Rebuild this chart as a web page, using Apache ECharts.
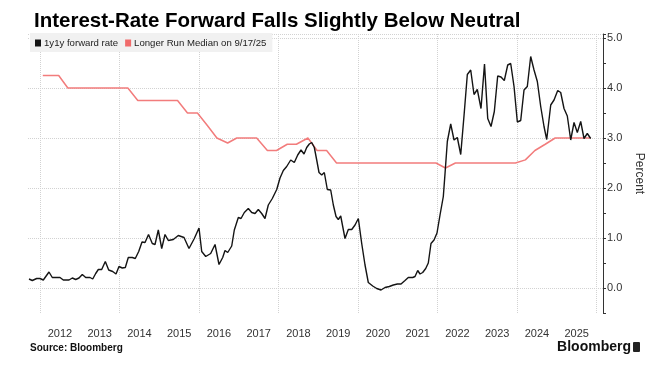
<!DOCTYPE html>
<html><head><meta charset="utf-8">
<script src="https://cdn.jsdelivr.net/npm/echarts@6/dist/echarts.min.js"></script>
<style>html,body{margin:0;padding:0;background:#fff}#c{width:669px;height:369px}</style>
</head><body><div id="c"></div>
<script>
// 1y1y forward rate (decimal-year dates, percent)
const fwdDates = [2011.723,2011.806,2011.917,
2012.000,2012.083,2012.226,2012.309,2012.420,2012.503,2012.586,2012.730,2012.813,2012.898,2012.981,
2013.064,2013.150,2013.258,2013.326,2013.401,2013.467,2013.552,2013.643,2013.728,2013.829,2013.912,2013.987,
2014.070,2014.146,2014.221,2014.322,2014.397,2014.483,2014.566,2014.642,2014.730,2014.825,2014.893,2014.976,
2015.062,2015.145,2015.228,2015.353,2015.479,2015.623,2015.748,2015.882,
2016.000,2016.068,2016.169,2016.294,2016.403,2016.503,2016.596,2016.654,2016.722,2016.823,2016.888,2016.989,
2017.057,2017.140,2017.240,2017.326,2017.409,2017.492,2017.577,2017.660,2017.743,2017.844,2017.955,
2018.038,2018.121,2018.206,2018.307,2018.397,2018.483,2018.566,2018.642,2018.709,2018.775,2018.835,2018.901,2018.961,
2019.019,2019.087,2019.152,2019.228,2019.313,2019.379,2019.447,2019.504,2019.565,2019.615,2019.673,2019.756,2019.842,2019.925,
2020.008,2020.093,2020.176,2020.259,2020.370,2020.470,2020.579,2020.679,2020.787,2020.888,2020.989,
2021.082,2021.182,2021.265,2021.376,2021.434,2021.502,2021.560,2021.627,2021.703,2021.768,2021.836,2021.912,2021.987,
2022.063,2022.146,2022.189,2022.247,2022.332,2022.415,2022.498,2022.584,2022.667,2022.750,2022.835,2022.918,
2023.001,2023.094,2023.182,2023.263,2023.346,2023.429,2023.514,2023.597,2023.680,2023.766,2023.841,2023.925,
2024.008,2024.093,2024.176,2024.259,2024.344,2024.428,2024.511,2024.596,2024.679,2024.747,2024.848,2024.931,
2025.024,2025.099,2025.182,2025.265,2025.351,2025.434,2025.517,2025.602,2025.685,2025.768,2025.853];
const fwdValues = [0.18,0.15,0.19,
0.19,0.16,0.32,0.21,0.21,0.21,0.16,0.16,0.20,0.17,0.20,
0.27,0.21,0.21,0.18,0.29,0.37,0.37,0.53,0.36,0.33,0.28,0.43,
0.40,0.41,0.61,0.61,0.59,0.73,0.92,0.91,1.07,0.89,0.87,1.16,
0.79,1.07,0.95,0.97,1.05,1.01,0.79,0.99,
1.20,0.73,0.63,0.69,0.87,0.47,0.61,0.75,0.71,0.84,1.16,1.41,
1.39,1.51,1.59,1.51,1.49,1.57,1.49,1.39,1.66,1.79,1.97,
2.20,2.35,2.43,2.56,2.51,2.66,2.76,2.68,2.81,2.88,2.91,2.81,2.56,
2.31,2.26,2.31,1.97,1.96,1.66,1.43,1.37,1.44,1.23,0.99,1.17,1.17,1.26,
1.39,0.89,0.46,0.11,0.04,-0.01,-0.04,0.01,0.03,0.06,0.08,
0.08,0.15,0.21,0.21,0.23,0.35,0.28,0.31,0.39,0.50,0.89,0.96,1.10,
1.46,1.83,2.29,2.93,3.28,2.96,3.01,2.67,3.45,4.27,4.36,3.87,
3.97,3.59,4.48,3.39,3.23,3.53,4.24,4.22,4.15,4.46,4.49,4.03,
3.32,3.35,3.96,4.03,4.63,4.36,4.13,3.63,3.23,2.97,3.66,3.76,
3.95,3.91,3.59,3.44,2.96,3.31,3.11,3.33,2.99,3.09,2.99];

// FOMC longer-run median (decimal-year dates, percent)
const medianDates = [2012.07,2012.32,2012.47,2012.70,2012.95,2013.21,2013.46,2013.71,2013.96,
2014.21,2014.46,2014.71,2014.96,2015.21,2015.46,2015.71,2015.96,2016.21,2016.45,2016.72,2016.95,
2017.20,2017.45,2017.72,2017.95,2018.22,2018.45,2018.74,2018.97,2019.21,2019.46,2019.71,2019.95,
2020.45,2020.71,2020.96,2021.21,2021.46,2021.72,2021.96,2022.20,2022.45,2022.71,2022.96,
2023.21,2023.46,2023.72,2023.96,2024.21,2024.45,2024.71,2024.96,2025.21,2025.46,2025.71,2025.85];
const medianValues = [4.25,4.25,4.25,4.0,4.0,4.0,4.0,4.0,4.0,
4.0,3.75,3.75,3.75,3.75,3.75,3.5,3.5,3.25,3.0,2.9,3.0,
3.0,3.0,2.75,2.75,2.875,2.875,3.0,2.75,2.75,2.5,2.5,2.5,
2.5,2.5,2.5,2.5,2.5,2.5,2.5,2.4,2.5,2.5,2.5,
2.5,2.5,2.5,2.5,2.5625,2.75,2.875,3.0,3.0,3.0,3.0,3.0];

const yearLabels = [2012,2013,2014,2015,2016,2017,2018,2019,2020,2021,2022,2023,2024,2025];
const yTickLabels = [0,1,2,3,4,5];
const seriesNames = ['1y1y forward rate', 'Longer Run Median on 9/17/25'];

const XMIN = 2011.698, XMAX = 2026.163;
const YMIN = -0.5, YMAX = 5.08;
const FONT = '"Liberation Sans", Arial, sans-serif';
const gridStyle = {type: 'dotted', color: '#d2d2d2', width: 1};

const chart = echarts.init(document.getElementById('c'), null, {renderer: 'canvas'});
chart.setOption({
  animation: false,
  backgroundColor: '#ffffff',
  textStyle: {fontFamily: FONT},
  title: {
    text: 'Interest-Rate Forward Falls Slightly Below Neutral',
    left: 29, top: 6,
    textStyle: {fontSize: 20.5, fontWeight: 'bold', color: '#000', fontFamily: FONT}
  },
  legend: {
    left: 30, top: 33,
    orient: 'horizontal',
    icon: 'rect',
    itemWidth: 6, itemHeight: 7, itemGap: 7,
    padding: [5, 6, 4, 5],
    backgroundColor: '#f1f1f1',
    selectedMode: false,
    textStyle: {fontSize: 9.6, color: '#222', fontFamily: FONT, padding: [0,0,0,-2]},
    data: seriesNames
  },
  grid: {left: 28, right: 66, top: 34, bottom: 56, containLabel: false, outerBoundsMode: 'none'},
  xAxis: [
    {
      type: 'value', min: XMIN, max: XMAX, minInterval: 2, maxInterval: 2,
      axisLine: {show: false}, axisTick: {show: false}, axisLabel: {show: false},
      splitLine: {show: true, showMinLine: false, showMaxLine: true, lineStyle: gridStyle}
    },
    {
      type: 'value', min: XMIN - 0.5, max: XMAX - 0.5, minInterval: 1, maxInterval: 1,
      position: 'bottom',
      axisLine: {show: false}, axisTick: {show: false}, splitLine: {show: false},
      axisLabel: {
        fontSize: 11, color: '#333', margin: 15, fontFamily: FONT,
        showMinLabel: true, showMaxLabel: true,
        formatter: v => yearLabels.includes(Math.round(v)) && Math.abs(v - Math.round(v)) < 1e-6 ? String(Math.round(v)) : ''
      }
    }
  ],
  yAxis: [
    {
      type: 'value', position: 'right', min: YMIN, max: YMAX, interval: 0.5,
      axisLine: {show: true, lineStyle: {color: '#333', width: 1}},
      axisTick: {show: true, length: 3, lineStyle: {color: '#333', width: 1}},
      axisLabel: {
        margin: 4, fontSize: 11, color: '#333', fontFamily: FONT,
        formatter: v => {
          const r = Math.round(v);
          return (Math.abs(v - r) < 1e-6 && yTickLabels.includes(r)) ? r.toFixed(1) : '';
        }
      },
      splitLine: {show: false},
      name: 'Percent', nameLocation: 'middle', nameGap: 27, nameRotate: -90,
      nameTextStyle: {fontSize: 12, color: '#333', fontFamily: FONT}
    },
    {
      type: 'value', position: 'right', min: YMIN, max: YMAX, minInterval: 1, maxInterval: 1,
      axisLine: {show: false}, axisTick: {show: false}, axisLabel: {show: false},
      splitLine: {show: true, showMinLine: false, showMaxLine: true, lineStyle: gridStyle}
    }
  ],
  series: [
    {
      name: seriesNames[1], type: 'line', xAxisIndex: 0, yAxisIndex: 0,
      showSymbol: false, symbol: 'none',
      lineStyle: {color: '#f27c7c', width: 1.5},
      itemStyle: {color: '#f06b6b'},
      data: medianDates.map((d, i) => [d, medianValues[i]]),
      z: 2
    },
    {
      name: seriesNames[0], type: 'line', xAxisIndex: 0, yAxisIndex: 0,
      showSymbol: false, symbol: 'none',
      lineStyle: {color: '#141414', width: 1.4},
      itemStyle: {color: '#141414'},
      data: fwdDates.map((d, i) => [d, fwdValues[i]]),
      z: 3
    }
  ],
  graphic: [
    {type: 'text', left: 30, top: 343, style: {text: 'Source: Bloomberg', font: 'bold 10px ' + FONT, fill: '#111'}},
    {type: 'text', right: 38, top: 340, style: {text: 'Bloomberg', font: 'bold 14px ' + FONT, fill: '#111'}},
    {type: 'rect', right: 29, top: 342, shape: {width: 7, height: 10, r: 1}, style: {fill: '#222'}}
  ]
});
</script>
</body></html>
